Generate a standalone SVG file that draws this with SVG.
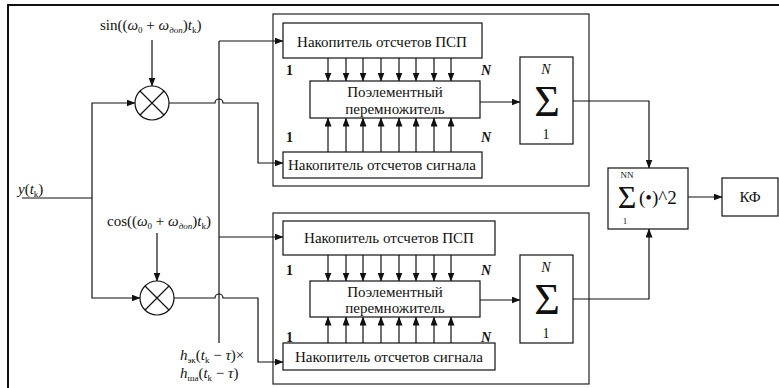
<svg xmlns="http://www.w3.org/2000/svg" width="779" height="388" viewBox="0 0 779 388">
<defs>
<marker id="ah" markerWidth="9" markerHeight="7" refX="8.5" refY="3.5" orient="auto" markerUnits="userSpaceOnUse">
<path d="M0,0 L9,3.5 L0,7 Z" fill="#111"/>
</marker>
<style>
.ln{fill:none;stroke:#111;stroke-width:1.2}
.ar{fill:none;stroke:#111;stroke-width:1.2;marker-end:url(#ah)}
.bx{fill:#fff;stroke:#111;stroke-width:1.2}
.gb{fill:none;stroke:#222;stroke-width:1.2}
.t{font-family:"Liberation Serif","Times New Roman","DejaVu Serif",serif;font-size:15px;fill:#111;text-anchor:middle}
.m{font-family:"Liberation Serif","Times New Roman","DejaVu Serif",serif;font-size:15px;fill:#111}
.i{font-style:italic}
.s{font-size:9px}
.n{font-family:"Liberation Serif","Times New Roman","DejaVu Serif",serif;font-size:14px;fill:#111;font-weight:bold}
</style>
</defs>
<rect width="779" height="388" fill="#fff"/>
<g id="frame"><path class="ln" style="stroke-width:2" d="M8,388 V5 H779"/></g>

<g id="groupTop"><rect class="gb" x="273" y="14" width="316" height="172"/></g>
<g id="groupBottom"><rect class="gb" x="273" y="213" width="316" height="171"/></g>

<g id="connectors">
<path class="ln" d="M22,198 H92"/>
<path class="ar" d="M92,198 V103 H135"/>
<path class="ar" d="M92,198 V298 H140"/>
<path class="ar" d="M152,40 V86"/>
<path class="ar" d="M157,233 V281"/>
<path class="ln" d="M219,343 V41"/>
<path class="ar" d="M219,41 H283"/>
<path class="ar" d="M219,237 H283"/>
<path class="ar" d="M169,103 H215 A4,4 0 0 1 223,103 H258 V163 H283"/>
<path class="ar" d="M174,298 H215 A4,4 0 0 1 223,298 H258 V362 H283"/>
<line class="ar" x1="328" y1="58" x2="328" y2="81"/><line class="ar" x1="346" y1="58" x2="346" y2="81"/><line class="ar" x1="363" y1="58" x2="363" y2="81"/><line class="ar" x1="381" y1="58" x2="381" y2="81"/><line class="ar" x1="399" y1="58" x2="399" y2="81"/><line class="ar" x1="416" y1="58" x2="416" y2="81"/><line class="ar" x1="434" y1="58" x2="434" y2="81"/><line class="ar" x1="451" y1="58" x2="451" y2="81"/>
<line class="ar" x1="328" y1="152" x2="328" y2="118"/><line class="ar" x1="346" y1="152" x2="346" y2="118"/><line class="ar" x1="363" y1="152" x2="363" y2="118"/><line class="ar" x1="381" y1="152" x2="381" y2="118"/><line class="ar" x1="399" y1="152" x2="399" y2="118"/><line class="ar" x1="416" y1="152" x2="416" y2="118"/><line class="ar" x1="434" y1="152" x2="434" y2="118"/><line class="ar" x1="451" y1="152" x2="451" y2="118"/>
<line class="ar" x1="328" y1="255" x2="328" y2="281"/><line class="ar" x1="346" y1="255" x2="346" y2="281"/><line class="ar" x1="363" y1="255" x2="363" y2="281"/><line class="ar" x1="381" y1="255" x2="381" y2="281"/><line class="ar" x1="399" y1="255" x2="399" y2="281"/><line class="ar" x1="416" y1="255" x2="416" y2="281"/><line class="ar" x1="434" y1="255" x2="434" y2="281"/><line class="ar" x1="451" y1="255" x2="451" y2="281"/>
<line class="ar" x1="328" y1="343" x2="328" y2="317"/><line class="ar" x1="346" y1="343" x2="346" y2="317"/><line class="ar" x1="363" y1="343" x2="363" y2="317"/><line class="ar" x1="381" y1="343" x2="381" y2="317"/><line class="ar" x1="399" y1="343" x2="399" y2="317"/><line class="ar" x1="416" y1="343" x2="416" y2="317"/><line class="ar" x1="434" y1="343" x2="434" y2="317"/><line class="ar" x1="451" y1="343" x2="451" y2="317"/>
<path class="ar" d="M480,102 H520"/>
<path class="ar" d="M480,300 H520"/>
<path class="ar" d="M573,101 H649 V168"/>
<path class="ar" d="M573,299 H649 V229"/>
<path class="ar" d="M688,197 H722"/>
</g>

<g id="labels">
<text class="m" x="100" y="30">sin((<tspan class="i">ω</tspan><tspan class="s" dy="3">0</tspan><tspan dy="-3"> + </tspan><tspan class="i">ω</tspan><tspan class="s i" dy="3">доп</tspan><tspan dy="-3">)</tspan><tspan class="i">t</tspan><tspan class="s" dy="3">k</tspan><tspan dy="-3">)</tspan></text>
<text class="m" x="107" y="226">cos((<tspan class="i">ω</tspan><tspan class="s" dy="3">0</tspan><tspan dy="-3"> + </tspan><tspan class="i">ω</tspan><tspan class="s i" dy="3">доп</tspan><tspan dy="-3">)</tspan><tspan class="i">t</tspan><tspan class="s" dy="3">k</tspan><tspan dy="-3">)</tspan></text>
<text class="m" x="18" y="194"><tspan class="i">y</tspan>(<tspan class="i">t</tspan><tspan class="s" dy="3">k</tspan><tspan dy="-3">)</tspan></text>
<text class="m" x="180" y="360"><tspan class="i">h</tspan><tspan class="s" dy="3">эк</tspan><tspan dy="-3">(</tspan><tspan class="i">t</tspan><tspan class="s" dy="3">k</tspan><tspan dy="-3"> − </tspan><tspan class="i">τ</tspan>)×</text>
<text class="m" x="180" y="378"><tspan class="i">h</tspan><tspan class="s" dy="3">ша</tspan><tspan dy="-3">(</tspan><tspan class="i">t</tspan><tspan class="s" dy="3">k</tspan><tspan dy="-3"> − </tspan><tspan class="i">τ</tspan>)</text>
</g>

<g id="mixerSin">
<circle class="bx" cx="152" cy="103" r="17"/>
<path class="ln" d="M140,91 L164,115 M164,91 L140,115"/>
</g>
<g id="mixerCos">
<circle class="bx" cx="157" cy="298" r="17"/>
<path class="ln" d="M145,286 L169,310 M169,286 L145,310"/>
</g>

<g id="pspTop"><rect class="bx" x="283" y="23" width="199" height="35"/><text class="t" x="382" y="47">Накопитель отсчетов ПСП</text></g>
<g id="mulTop"><rect class="bx" x="310" y="81" width="170" height="37"/><text class="t" x="395" y="97">Поэлементный</text><text class="t" x="395" y="114">перемножитель</text></g>
<g id="sigTop"><rect class="bx" x="283" y="152" width="199" height="26"/><text class="t" x="382" y="170">Накопитель отсчетов сигнала</text></g>
<g id="idxTop"><text class="n" x="286" y="75">1</text><text class="n i" x="481" y="75">N</text><text class="n" x="286" y="142">1</text><text class="n i" x="481" y="142">N</text></g>

<g id="pspBot"><rect class="bx" x="283" y="221" width="212" height="34"/><text class="t" x="389" y="243">Накопитель отсчетов ПСП</text></g>
<g id="mulBot"><rect class="bx" x="310" y="281" width="170" height="36"/><text class="t" x="395" y="297">Поэлементный</text><text class="t" x="395" y="313">перемножитель</text></g>
<g id="sigBot"><rect class="bx" x="283" y="343" width="212" height="27"/><text class="t" x="389" y="362">Накопитель отсчетов сигнала</text></g>
<g id="idxBot"><text class="n" x="286" y="275">1</text><text class="n i" x="481" y="275">N</text><text class="n" x="286" y="342">1</text><text class="n i" x="481" y="342">N</text></g>

<g id="sumTop"><rect class="bx" x="520" y="57" width="53" height="87"/>
<text class="t i" x="546" y="74" style="font-size:14px">N</text>
<text class="t" x="547" y="116" style="font-size:44px">Σ</text>
<text class="t" x="546" y="139" style="font-size:14px">1</text></g>
<g id="sumBot"><rect class="bx" x="520" y="255" width="53" height="88"/>
<text class="t i" x="546" y="272" style="font-size:14px">N</text>
<text class="t" x="547" y="314" style="font-size:44px">Σ</text>
<text class="t" x="546" y="338" style="font-size:14px">1</text></g>

<g id="sumSq"><rect class="bx" x="608" y="168" width="80" height="61"/>
<text class="t" x="627" y="178" style="font-size:9px">NN</text>
<text class="t" x="627" y="208" style="font-size:32px">Σ</text>
<text class="t" x="625" y="224" style="font-size:9px">1</text>
<text class="m" x="639" y="204" style="font-size:19px">(•)^2</text></g>

<g id="kf"><rect class="bx" x="722" y="178" width="56" height="38"/><text class="t" x="750" y="202">КФ</text></g>
</svg>
